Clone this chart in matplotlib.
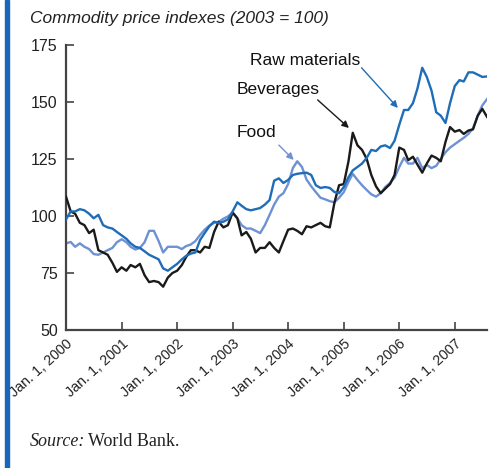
import numpy as np
import pandas as pd
import matplotlib
matplotlib.use("Agg")
from matplotlib import pyplot as plt
import matplotlib.dates as mdates

# monthly index values, Jan 2000 .. Aug 2007 (2003 = 100)
months = pd.date_range("2000-01-01", periods=92, freq="MS")

beverages = [108.5, 102, 101, 97, 96, 92.5, 94, 85, 84, 83, 79.5, 75.5,
             77.5, 76, 78.5, 77.5, 79, 74, 71, 71.5, 71, 69, 73, 75,
             76, 78.5, 82, 85, 85, 84, 86.5, 86, 93, 97.5, 95, 96,
             101.5, 99, 91.5, 93, 90, 84, 86, 86, 88.5, 86, 84, 89,
             94, 94.5, 93.5, 92, 95.5, 95, 96, 97, 95.5, 95, 106, 113.5,
             114, 124, 136.5, 131, 129, 125, 118, 113, 110, 112, 114, 118,
             130, 129, 124.5, 126, 122.5, 119, 123, 126.5, 125.5, 124, 132.5, 139,
             137, 137.7, 136, 137.5, 138, 144, 147, 143.5]

raw_materials = [98.5, 102, 102, 103, 102.5, 101, 99, 100.5, 96, 95, 94.5, 93,
                 91.5, 90, 88, 86.5, 86, 84.5, 83, 82, 81, 77, 76, 77.5,
                 79, 81, 82.5, 83.5, 84, 89.5, 92.5, 95.5, 97.5, 97, 97.5, 98.5,
                 102, 106, 104.5, 103, 102.5, 103, 103.5, 105, 107, 115.5, 116.5, 114.5,
                 115.8, 118, 118.5, 118.8, 119, 118, 113.5, 112.3, 112.7, 112.3, 110.5, 110,
                 112.7, 117, 120, 121.5, 123, 125.5, 129, 128.5, 130.5, 131, 129.8, 133,
                 140, 146.5, 146.5, 149.5, 156, 165, 161, 155, 145.5, 144, 140.8, 149.5,
                 157, 159.6, 159, 163, 163, 162, 161, 161.2]

food = [88, 88.6, 86.5, 88, 86.5, 85.5, 83.3, 83, 84, 85, 86, 88.5,
        89.8, 88.5, 86.5, 85.3, 86, 88.5, 93.5, 93.5, 89, 84, 86.5, 86.5,
        86.5, 85.5, 86.8, 87.5, 89, 91.7, 94, 95.8, 97, 97.4, 98.8, 99.8,
        101.5, 99, 96, 94.5, 94.5, 93.5, 92.5, 96, 100.5, 105, 108.5, 110,
        114, 121, 124, 121.5, 116, 113, 110.5, 108, 107.3, 106.5, 106, 108,
        110.5, 115, 118.5, 115.8, 113.5, 111.4, 109.5, 108.5, 110, 112.7, 114.5, 116.8,
        121.5, 125.5, 123, 123, 125.5, 121, 122.4, 121, 122, 125, 128, 130,
        131.5, 133, 134.3, 136, 138.5, 144, 148.5, 151.3]

year_ticks = pd.date_range("2000-01-01", periods=8, freq="YS")
tick_labels = ["Jan. 1, %d" % y.year for y in year_ticks]
y_ticks = [50, 75, 100, 125, 150, 175]

c_raw = "#1f6db8"
c_food = "#6e91d2"
c_bev = "#1a1a1a"
c_axis = "#444444"

plt.rcParams["font.family"] = ["Liberation Sans", "DejaVu Sans"]

month_nums = mdates.date2num(months)
def at(m):
    # fractional month index -> date number on the x axis
    return np.interp(m, np.arange(len(months)), month_nums)

fig = plt.figure(figsize=(5.03, 4.68), dpi=100)
ax = fig.add_axes([66/503, 1-330/468, (487-66)/503, (330-45)/468])

ax.plot(months, food, color=c_food, lw=1.7, zorder=2)
ax.plot(months, beverages, color=c_bev, lw=1.7, zorder=3)
ax.plot(months, raw_materials, color=c_raw, lw=1.7, zorder=4)

ax.set_ylim(50, 175)
ax.set_xlim(months[0], months[-1])
ax.set_yticks(y_ticks)
ax.set_xticks(year_ticks)
ax.set_xticklabels(tick_labels, rotation=42, ha="right", va="top",
                   rotation_mode="anchor", fontsize=10.3, color="#222222")
ax.tick_params(axis="y", direction="in", length=6, width=1.2, color=c_axis,
               labelsize=11.5, labelcolor="#222222", pad=6)
ax.tick_params(axis="x", direction="in", length=6, width=1.2, color=c_axis, pad=5)
for s in ["top", "right"]:
    ax.spines[s].set_visible(False)
for s in ["left", "bottom"]:
    ax.spines[s].set_color(c_axis)
    ax.spines[s].set_linewidth(1.6)

# labels
ax.text(at(51.8), 168.4, "Raw materials", fontsize=12.5, color="#111111", ha="center", va="center")
ax.text(at(45.8), 155.3, "Beverages", fontsize=12.5, color="#111111", ha="center", va="center")
ax.text(at(41.2), 136.8, "Food", fontsize=12.5, color="#111111", ha="center", va="center")

# arrows
arrows = [((63.9, 165.0), (71.7, 147.4), c_raw),
          ((54.4, 150.9), (61.1, 138.6), c_bev),
          ((46.0, 131.1), (49.2, 124.6), c_food)]
for (m0, v0), (m1, v1), col in arrows:
    ax.annotate("", xy=(at(m1), v1), xytext=(at(m0), v0),
                arrowprops=dict(arrowstyle="-|>", color=col, lw=1.0,
                                shrinkA=0, shrinkB=0, mutation_scale=10), zorder=5)

fig.text(30/503, 1-18/468, "Commodity price indexes (2003 = 100)",
         fontsize=12.5, style="italic", color="#222222", va="center", ha="left")

fig.text(30/503, 1-441/468, "Source:", fontsize=13, family="Liberation Serif",
         style="italic", color="#222222", va="center", ha="left")
fig.text(88/503, 1-441/468, "World Bank.", fontsize=13, family="Liberation Serif",
         color="#222222", va="center", ha="left")

# blue bar at the left edge
fig.patches.append(plt.Rectangle((5/503, 0), 4/503, 1, transform=fig.transFigure,
                                 color="#1a66b8", zorder=0))

fig.savefig("out.png", dpi=100)
